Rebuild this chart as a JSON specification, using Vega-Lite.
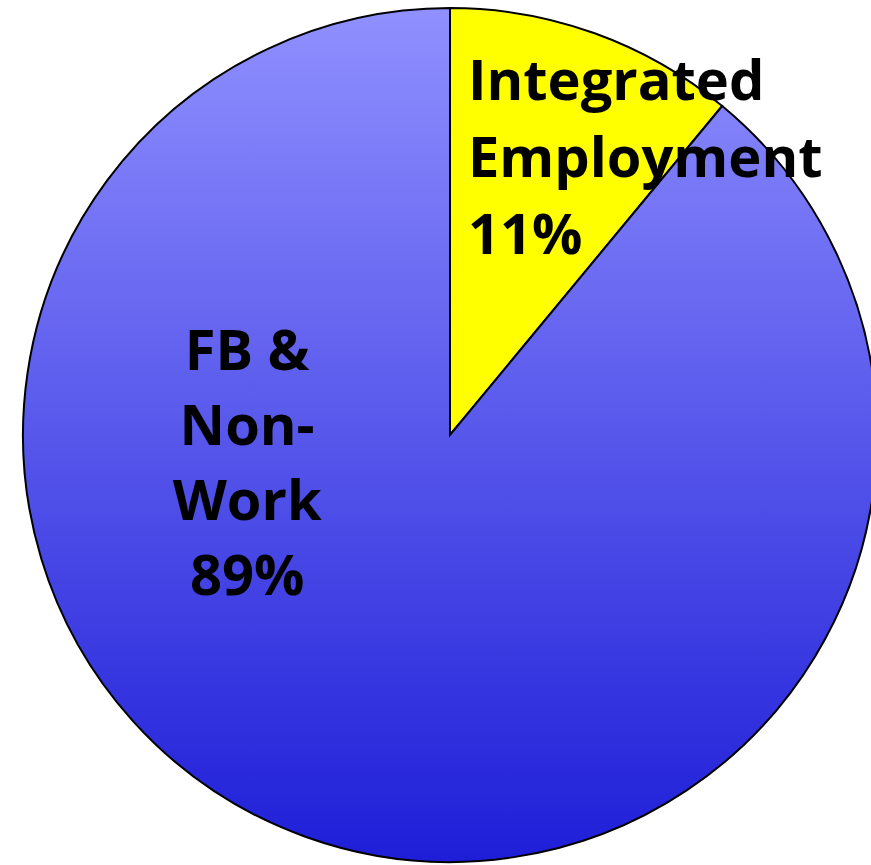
{
  "$schema": "https://vega.github.io/schema/vega-lite/v6.json",
  "autosize": {"type": "fit", "contains": "padding"},
  "width": 871,
  "height": 865,
  "padding": {"left": 29, "right": 0, "top": 5, "bottom": 0},
  "background": "white",
  "config": {"view": {"stroke": null}},
  "data": {
    "values": [
      {"category": "Integrated Employment", "label": "Integrated\nEmployment\n11%", "share": 11, "order": 1},
      {"category": "FB & Non-Work", "label": "FB &\nNon-\nWork\n89%", "share": 89, "order": 2}
    ]
  },
  "encoding": {
    "theta": {"field": "share", "type": "quantitative", "stack": true},
    "order": {"field": "order", "type": "quantitative", "sort": "ascending"}
  },
  "layer": [
    {
      "mark": {"type": "arc", "outerRadius": 427, "stroke": "black", "strokeWidth": 2},
      "encoding": {
        "fill": {
          "condition": {"test": "datum.order === 1", "value": "#ffff00"},
          "value": {
            "gradient": "linear",
            "x1": 0, "y1": 0, "x2": 0, "y2": 1,
            "stops": [
              {"offset": 0, "color": "#9090ff"},
              {"offset": 1, "color": "#1e1ed8"}
            ]
          }
        }
      }
    },
    {
      "mark": {"type": "text", "radius": 292, "dx": -81, "dy": -77, "align": "left", "baseline": "middle", "lineBreak": "\n", "lineHeight": 77, "font": "Open Sans", "fontWeight": "bold", "fontSize": 56, "color": "black"},
      "encoding": {
        "text": {"condition": {"test": "datum.order === 1", "field": "label"}, "value": ""}
      }
    },
    {
      "mark": {"type": "text", "radius": 100, "dx": -169, "dy": -176, "align": "center", "baseline": "middle", "lineBreak": "\n", "lineHeight": 75, "font": "Open Sans", "fontWeight": "bold", "fontSize": 56, "color": "black"},
      "encoding": {
        "text": {"condition": {"test": "datum.order === 2", "field": "label"}, "value": ""}
      }
    }
  ]
}
